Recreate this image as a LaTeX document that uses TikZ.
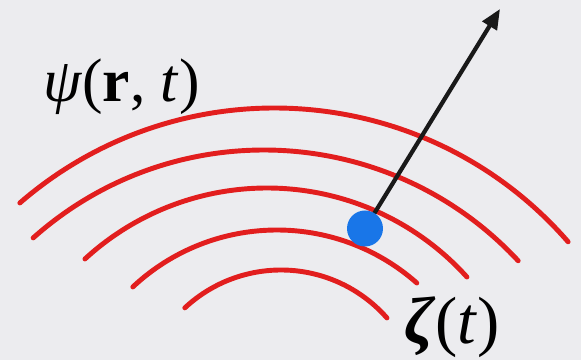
\documentclass[tikz,border=0pt]{standalone}
\usepackage{fontspec}
\setmainfont{Liberation Serif}
\usepackage{xcolor}
\usepackage{tikz}
\usetikzlibrary{arrows.meta, positioning, calc}
\definecolor{paper}{RGB}{236,236,239}
\definecolor{wavered}{RGB}{226,30,30}
\definecolor{dotblue}{RGB}{25,118,232}

\begin{document}
\begin{tikzpicture}[
            >=Latex,
            wave/.style={draw=wavered, line width=2.8pt, line cap=round},
            particle/.style={circle, fill=dotblue, minimum size=0.72cm, inner sep=0pt},
            label/.style={inner sep=0pt, anchor=base west},
            arrow/.style={-{Triangle[length=0.4cm, width=0.33cm]}, line width=2.4pt, draw=black!90}
        ]

% Background
            \fill[paper] (0,0) rectangle (11.62,7.2);
            \useasboundingbox (0,0) rectangle (11.62,7.2);

% Wave fronts
            \foreach \cx/\cy/\r/\a/\b in {5.49/-2.74/7.78/130.9/41.0,
                                          5.28/-2.74/6.94/131.7/42.9,
                                          5.34/-1.94/5.38/132.6/42.0,
                                          5.54/-1.62/4.22/133.1/48.5,
                                          5.62/-1.02/2.82/133.0/41.3}
                \draw[wave] (\cx,\cy) ++(\a:\r) arc[start angle=\a, end angle=\b, radius=\r];

% Nodes
            \coordinate (pos) at (7.30,2.63);
            \coordinate (tip) at (10.0,7.02);
            \node[label, font=\fontsize{35}{40}\selectfont] (psi) at (0.86,5.16) {\textit{ψ}(\textbf{r}, \textit{t})};
            \node[label, font=\fontsize{38}{44}\selectfont] (zeta) at (8.08,0.32) {\textbf{\textit{ζ}}(\textit{t})};

% Edges
            \draw[arrow] (pos) -- (tip);
            \node[particle] (dot) at (pos) {};

        \end{tikzpicture}
\end{document}
